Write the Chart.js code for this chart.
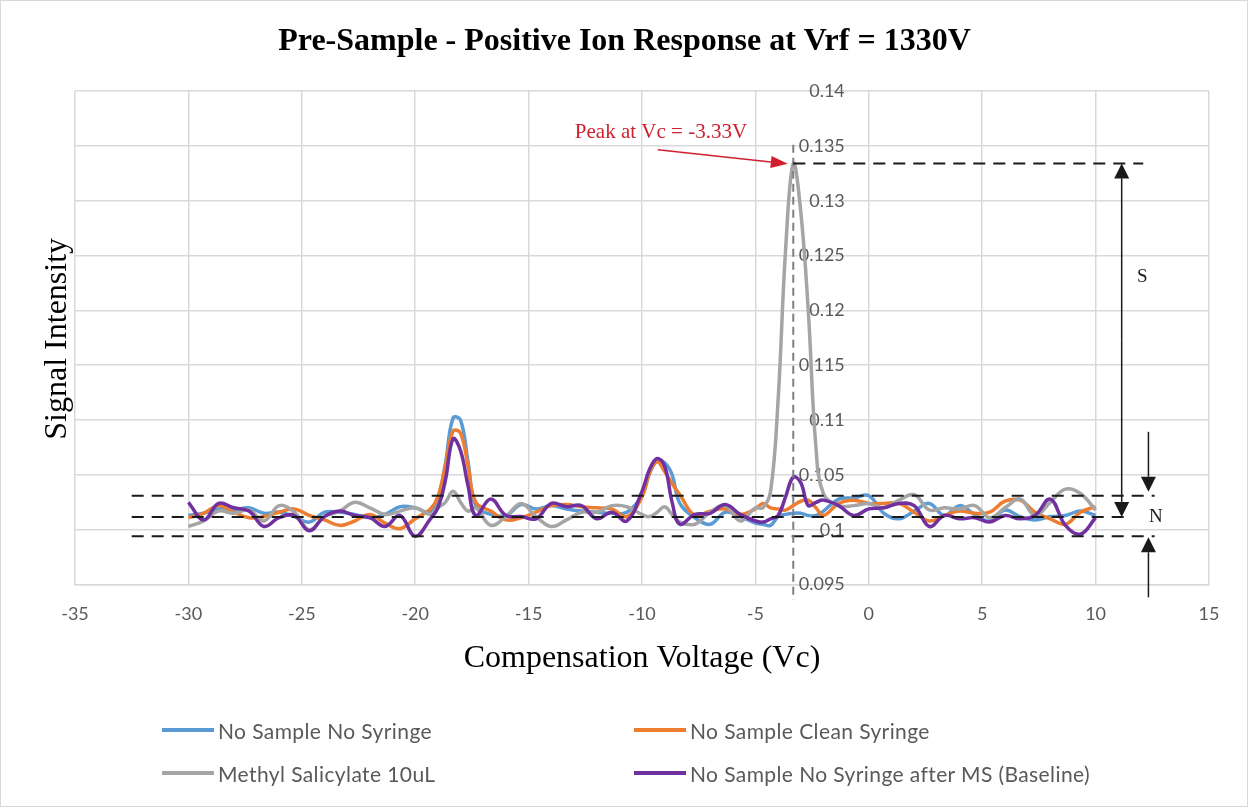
<!DOCTYPE html>
<html>
<head>
<meta charset="utf-8">
<script src="https://cdn.jsdelivr.net/npm/chart.js@4.4.0/dist/chart.umd.min.js"></script>
<style>
  html, body { margin: 0; padding: 0; background: #fff; }
  #wrap { position: relative; width: 1249px; height: 808px; }
  #chart { position: absolute; left: 0; top: 0; }
  .item { position: absolute; display: flex; align-items: center; white-space: nowrap;
          font-family: Lato, "Open Sans", sans-serif; font-size: 21px; letter-spacing: 0.4px;
          color: #595959; height: 26px; }
  .swatch { width: 52px; height: 4px; margin-right: 4px; }
</style>
</head>
<body>
<div id="wrap">
  <canvas id="chart" width="1249" height="808"></canvas>
</div>
<script>
// Compensation voltage (Vc) sample points
const vc = [-30, -29.33, -28.67, -28, -27.33, -26.67, -26, -25.33, -24.67, -24, -23.33, -22.67, -22, -21.33,
  -20.67, -20, -19.33, -19, -18.67, -18.33, -18, -17.67, -17.33, -16.67, -16, -15.33, -14.67, -14, -13.33,
  -12.67, -12, -11.33, -10.67, -10, -9.67, -9.33, -9, -8.67, -8.33, -7.67, -7, -6.33, -5.67, -5, -4.67,
  -4.33, -4, -3.67, -3.33, -3, -2.67, -2.33, -2, -1.33, -0.67, 0, 0.67, 1.33, 2, 2.67, 3.33, 4, 4.67,
  5.33, 6, 6.67, 7.33, 8, 8.67, 9.33, 10];

const noSampleNoSyringe = [0.1013, 0.1015, 0.1019, 0.1018, 0.1020, 0.1015, 0.1016, 0.1012, 0.1007, 0.1016,
  0.1016, 0.1014, 0.1011, 0.1014, 0.1021, 0.1020, 0.1016, 0.1028, 0.1060, 0.1102, 0.1100, 0.1062, 0.1022,
  0.1014, 0.1013, 0.1023, 0.1019, 0.1022, 0.1019, 0.1017, 0.1016, 0.1015, 0.1016, 0.1031, 0.1051, 0.1063,
  0.1061, 0.1050, 0.1024, 0.1011, 0.1005, 0.1016, 0.1012, 0.1006, 0.1005, 0.1004, 0.1012, 0.1014, 0.1015,
  0.1015, 0.1013, 0.1013, 0.1017, 0.1028, 0.1029, 0.1031, 0.1015, 0.1010, 0.1017, 0.1024, 0.1013, 0.1022,
  0.1014, 0.1008, 0.1018, 0.1012, 0.1009, 0.1012, 0.1013, 0.1017, 0.1013];

const noSampleCleanSyringe = [0.1011, 0.1015, 0.1022, 0.1016, 0.1011, 0.1012, 0.1016, 0.1019, 0.1013, 0.1009,
  0.1004, 0.1008, 0.1014, 0.1006, 0.1001, 0.1010, 0.1019, 0.1030, 0.1058, 0.1090, 0.1088, 0.1058, 0.1025,
  0.1017, 0.1009, 0.1011, 0.1016, 0.1022, 0.1023, 0.1021, 0.1020, 0.1019, 0.1012, 0.1030, 0.1052, 0.1062,
  0.1053, 0.1042, 0.1032, 0.1013, 0.1017, 0.1019, 0.1014, 0.1019, 0.1024, 0.1020, 0.1019, 0.1018, 0.1022,
  0.1026, 0.1027, 0.1020, 0.1013, 0.1024, 0.1027, 0.1024, 0.1024, 0.1024, 0.1016, 0.1008, 0.1013, 0.1017,
  0.1015, 0.1016, 0.1026, 0.1027, 0.1016, 0.1010, 0.1005, 0.1016, 0.1021];

const methylSalicylate = [0.1003, 0.1008, 0.1017, 0.1015, 0.1018, 0.1008, 0.1022, 0.1016, 0.1000, 0.1012,
  0.1017, 0.1025, 0.1020, 0.1014, 0.1017, 0.1020, 0.1014, 0.1020, 0.1025, 0.1035, 0.1025, 0.1017, 0.1020,
  0.1004, 0.1012, 0.1024, 0.1012, 0.1003, 0.1009, 0.1016, 0.1016, 0.1022, 0.1021, 0.1014, 0.1012, 0.1016,
  0.1021, 0.1014, 0.1007, 0.1005, 0.1016, 0.1022, 0.1008, 0.1020, 0.1020, 0.1035, 0.1118, 0.1255, 0.1334,
  0.1290, 0.1200, 0.1075, 0.1033, 0.1022, 0.1022, 0.1024, 0.1020, 0.1027, 0.1032, 0.1018, 0.1020, 0.1019,
  0.1022, 0.1011, 0.1020, 0.1028, 0.1013, 0.1025, 0.1037, 0.1033, 0.1018];

const baselineAfterMS = [0.1025, 0.1009, 0.1024, 0.1020, 0.1017, 0.1003, 0.1011, 0.1013, 0.0999, 0.1012,
  0.1017, 0.1013, 0.1011, 0.1003, 0.1013, 0.0994, 0.1010, 0.1020, 0.1045, 0.1083, 0.1072, 0.1040, 0.1013,
  0.1028, 0.1013, 0.1012, 0.1010, 0.1024, 0.1021, 0.1022, 0.1010, 0.1016, 0.1008, 0.1035, 0.1055, 0.1065,
  0.1058, 0.1025, 0.1005, 0.1014, 0.1015, 0.1023, 0.1014, 0.1008, 0.1007, 0.1010, 0.1013, 0.1030, 0.1048,
  0.1043, 0.1022, 0.1025, 0.1027, 0.1022, 0.1013, 0.1019, 0.1020, 0.1024, 0.1022, 0.1003, 0.1013, 0.1010,
  0.1011, 0.1007, 0.1013, 0.1010, 0.1013, 0.1028, 0.1004, 0.0996, 0.1011];

const seriesNames = ["No Sample No Syringe", "No Sample Clean Syringe", "Methyl Salicylate 10uL",
  "No Sample No Syringe after MS (Baseline)"];
const seriesColors = ["#5b9bd5", "#ed7d31", "#a5a5a5", "#7030a0"];
const seriesValues = [noSampleNoSyringe, noSampleCleanSyringe, methylSalicylate, baselineAfterMS];

// Noise band and peak reference levels
const noiseLevels = [0.1031, 0.10117, 0.0994];
const peakVc = -3.33;
const peakValue = 0.1334;

const GRID = "#d9d9d9";
const TICK = "#595959";

function toPoints(values) {
  return values.map((v, i) => ({ x: vc[i], y: v }));
}

function dashed(ctx, x1, y1, x2, y2, color, dash, width) {
  ctx.save();
  ctx.strokeStyle = color;
  ctx.lineWidth = width;
  ctx.setLineDash(dash);
  ctx.beginPath();
  ctx.moveTo(x1, y1);
  ctx.lineTo(x2, y2);
  ctx.stroke();
  ctx.restore();
}

function arrow(ctx, x1, y1, x2, y2, color, width, headLen, headW) {
  const ang = Math.atan2(y2 - y1, x2 - x1);
  const bx = x2 - headLen * Math.cos(ang), by = y2 - headLen * Math.sin(ang);
  ctx.save();
  ctx.strokeStyle = color;
  ctx.fillStyle = color;
  ctx.lineWidth = width;
  ctx.beginPath();
  ctx.moveTo(x1, y1);
  ctx.lineTo(bx, by);
  ctx.stroke();
  ctx.beginPath();
  ctx.moveTo(x2, y2);
  ctx.lineTo(bx + headW / 2 * Math.sin(ang), by - headW / 2 * Math.cos(ang));
  ctx.lineTo(bx - headW / 2 * Math.sin(ang), by + headW / 2 * Math.cos(ang));
  ctx.closePath();
  ctx.fill();
  ctx.restore();
}

const annotations = {
  id: "annotations",
  beforeDraw(chart) {
    const ctx = chart.ctx;
    ctx.save();
    ctx.fillStyle = "#fff";
    ctx.fillRect(0, 0, chart.width, chart.height);
    ctx.strokeStyle = GRID;
    ctx.lineWidth = 1;
    ctx.strokeRect(0.5, 0.5, chart.width - 2, chart.height - 2);
    ctx.restore();
  },
  afterDatasetsDraw(chart) {
    const { ctx, scales: { x, y } } = chart;

    // noise band lines
    const ends = [12.6, 11.4, 12.6];
    noiseLevels.forEach((lv, i) => {
      dashed(ctx, x.getPixelForValue(-32.5), y.getPixelForValue(lv), x.getPixelForValue(ends[i]),
        y.getPixelForValue(lv), "#1a1a1a", [12, 8], 2);
    });

    // peak marker lines
    const px = x.getPixelForValue(peakVc);
    dashed(ctx, px, y.getPixelForValue(0.1351), px, y.getPixelForValue(0.0936), "#7f7f7f", [8, 5], 2);
    dashed(ctx, px, y.getPixelForValue(peakValue), x.getPixelForValue(12.1), y.getPixelForValue(peakValue),
      "#1a1a1a", [12, 8], 2);

    // red callout
    ctx.save();
    ctx.font = "21px 'Liberation Serif', serif";
    ctx.fillStyle = "#d0202e";
    ctx.textAlign = "left";
    ctx.textBaseline = "middle";
    ctx.fillText("Peak at Vc = -3.33V", x.getPixelForValue(-12.96), y.getPixelForValue(0.1362));
    ctx.restore();
    arrow(ctx, x.getPixelForValue(-9.3), y.getPixelForValue(0.13464), x.getPixelForValue(-3.57),
      y.getPixelForValue(0.13336), "#d0202e", 1.5, 17, 12);

    // S arrow (double headed)
    const sx = x.getPixelForValue(11.15);
    const sTop = y.getPixelForValue(peakValue), sBot = y.getPixelForValue(noiseLevels[1]);
    const sMid = (sTop + sBot) / 2;
    arrow(ctx, sx, sMid, sx, sTop, "#1a1a1a", 1.5, 15, 15);
    arrow(ctx, sx, sMid, sx, sBot, "#1a1a1a", 1.5, 15, 15);

    // N arrows
    const nx = x.getPixelForValue(12.33);
    arrow(ctx, nx, y.getPixelForValue(0.10893), nx, y.getPixelForValue(noiseLevels[0]) - 4, "#1a1a1a", 1.5, 15, 15);
    arrow(ctx, nx, y.getPixelForValue(0.09384), nx, y.getPixelForValue(noiseLevels[2]) + 1, "#1a1a1a", 1.5, 15, 15);

    ctx.save();
    ctx.font = "19px 'Liberation Serif', serif";
    ctx.fillStyle = "#1a1a1a";
    ctx.textAlign = "left";
    ctx.textBaseline = "middle";
    ctx.fillText("S", x.getPixelForValue(11.83), y.getPixelForValue(0.1230));
    ctx.fillText("N", x.getPixelForValue(12.36), y.getPixelForValue(noiseLevels[1]));
    ctx.restore();
  },
  afterDraw(chart) {
    const { ctx, chartArea } = chart;
    ctx.save();
    ctx.fillStyle = "#000";
    ctx.textAlign = "center";
    ctx.textBaseline = "middle";
    // chart title, centred on the whole canvas
    ctx.font = "bold 32px 'Liberation Serif', serif";
    ctx.fillText("Pre-Sample - Positive Ion Response at Vrf = 1330V", chart.width / 2, 42);
    // y axis title
    ctx.translate(58, (chartArea.top + chartArea.bottom) / 2 + 1);
    ctx.rotate(-Math.PI / 2);
    ctx.font = "32px 'Liberation Serif', serif";
    ctx.fillText("Signal Intensity", 0, 0);
    ctx.restore();
  }
};

const drawOrder = [4, 3, 2, 1];

const chart = new Chart(document.getElementById("chart"), {
  type: "line",
  data: {
    datasets: seriesNames.map((name, i) => ({
      label: name,
      data: toPoints(seriesValues[i]),
      borderColor: seriesColors[i],
      backgroundColor: seriesColors[i],
      borderWidth: 3.5,
      pointRadius: 0,
      tension: 0.4,
      fill: false,
      order: drawOrder[i]
    }))
  },
  options: {
    responsive: false,
    animation: false,
    layout: { padding: { left: 75, right: 40, top: 91, bottom: 132 } },
    plugins: {
      legend: { display: false },
      tooltip: { enabled: false },
      title: { display: false }
    },
    scales: {
      x: {
        type: "linear",
        min: -35,
        max: 15,
        ticks: { stepSize: 5, color: TICK, padding: 19, font: { family: "Lato, sans-serif", size: 18 } },
        grid: { color: GRID, lineWidth: 1.5, drawTicks: false },
        border: { color: GRID, width: 1.5 },
        title: {
          display: true,
          text: "Compensation Voltage (Vc)",
          color: "#000",
          font: { family: "'Liberation Serif', serif", size: 32, lineHeight: 0.9 },
          padding: { top: 0, bottom: 3 }
        }
      },
      y: {
        type: "linear",
        // labels sit just left of the Vc = 0 gridline
        position: { x: -1.06 },
        min: 0.095,
        max: 0.14,
        ticks: {
          stepSize: 0.005,
          color: TICK,
          font: { family: "Lato, sans-serif", size: 18 },
          callback: v => String(parseFloat(v.toFixed(3)))
        },
        grid: { color: GRID, lineWidth: 1.5, drawTicks: false },
        border: { display: false }
      }
    }
  },
  plugins: [annotations]
});

// legend in two columns
const wrap = document.getElementById("wrap");
const legendPos = [[162, 730], [634, 730], [162, 773], [634, 773]];
seriesNames.forEach((name, i) => {
  const item = document.createElement("div");
  item.className = "item";
  item.style.left = legendPos[i][0] + "px";
  item.style.top = (legendPos[i][1] - 13) + "px";
  item.innerHTML = `<span class="swatch" style="background:${seriesColors[i]}"></span><span>${name}</span>`;
  wrap.appendChild(item);
});
</script>
</body>
</html>
